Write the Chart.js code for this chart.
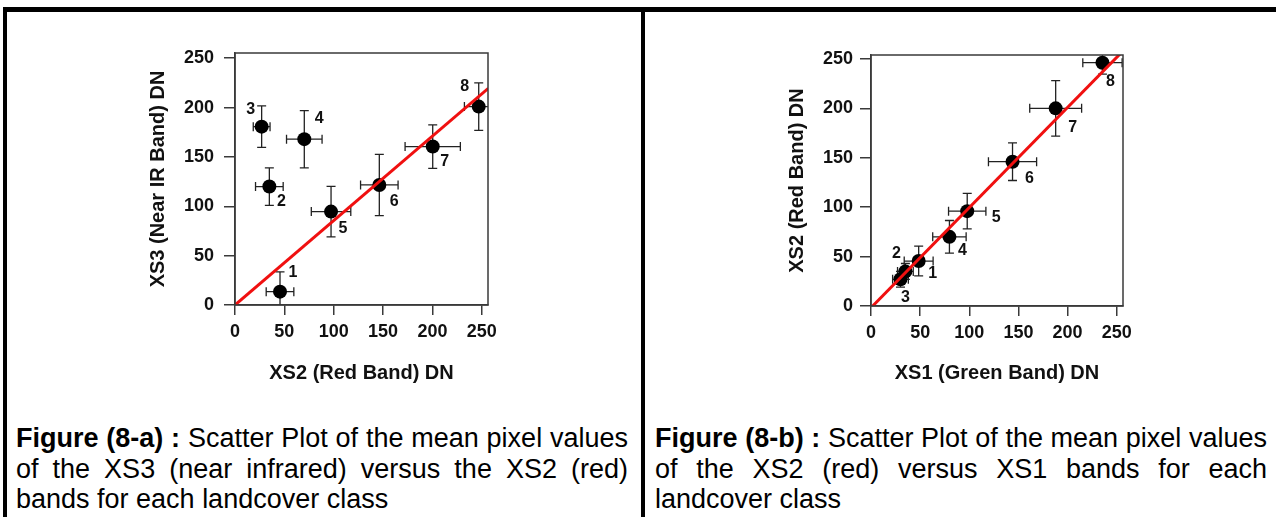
<!DOCTYPE html>
<html>
<head>
<meta charset="utf-8">
<script src="https://cdn.jsdelivr.net/npm/chart.js@4.4.0/dist/chart.umd.min.js"></script>
<style>
  html, body { margin: 0; padding: 0; background: #fff; }
  body { width: 1276px; height: 517px; overflow: hidden; position: relative; font-family: "Liberation Sans", Arial, sans-serif; }
  .bar { position: absolute; background: #000; }
  .plot { position: absolute; top: 14px; }
  .cap { position: absolute; top: 423px; width: 612px; font-size: 27px; line-height: 30.5px; text-align: justify; color: #000; }
  .cap b { font-weight: bold; }
</style>
</head>
<body>

<div class="bar" style="left:3px;top:7px;width:1273px;height:5px"></div>
<div class="bar" style="left:3px;top:7px;width:4px;height:510px"></div>
<div class="bar" style="left:641px;top:7px;width:4px;height:510px"></div>

<canvas id="chartA" class="plot" style="left:140px" width="496" height="386"></canvas>
<canvas id="chartB" class="plot" style="left:776px" width="496" height="386"></canvas>

<div class="cap" style="left:16px"><b>Figure (8-a) :</b> Scatter Plot of the mean pixel values of the XS3 (near infrared) versus the XS2 (red) bands for each landcover class</div>
<div class="cap" style="left:655px"><b>Figure (8-b) :</b> Scatter Plot of the mean pixel values of the XS2 (red) versus XS1 bands for each landcover class</div>

<script>
(function() {

  // landcover class numbers
  var classIds = ['1', '2', '3', '4', '5', '6', '7', '8'];
  var tickVals = [0, 50, 100, 150, 200, 250];

  // figure 8-a : XS3 vs XS2
  var xs2RedA = [45.6, 34.8, 27, 70.2, 97.3, 146.2, 200.3, 246.9];
  var xs3NirA = [13.5, 120, 180.7, 168, 94.6, 121.6, 160.5, 201];
  var xs2ErrA = [14, 14, 8.5, 18, 20, 19, 28, 14.5];
  var xs3ErrA = [20, 19, 21, 29, 25.5, 31, 22, 24];
  var fitXA = [0, 256.6];
  var fitYA = [0, 219.5];

  // figure 8-b : XS2 vs XS1
  var xs1GreenB = [48.5, 35, 30, 79.8, 97.9, 144, 187.9, 235.5];
  var xs2RedB = [45.5, 35, 27, 70, 96, 146, 200, 246.2];
  var xs1ErrB = [14.7, 8, 8, 17, 19, 24.5, 26.4, 20];
  var xs2ErrB = [15, 8, 8, 16.5, 18, 19, 28, 11.5];
  var fitXB = [1.7, 255.3];
  var fitYB = [0, 257];

  // where the class number sits relative to its point (px)
  var labelOffA = [[13, -19], [12, 15], [-11, -17], [15, -21], [12, 17], [15, 17], [12, 15], [-14, -20]];
  var labelOffB = [[14, 13], [-9, -18], [5, 18], [13, 14], [29, 6], [17, 17], [17, 19], [8, 19]];

  var axisColor = '#3a3a3a';
  var textColor = '#111';
  var fontFamily = '"Liberation Sans", Arial, sans-serif';

  var boxPlugin = {
    id: 'box',
    afterDraw: function(chart) {
      var a = chart.chartArea, ctx = chart.ctx;
      ctx.save();
      ctx.strokeStyle = axisColor;
      ctx.lineWidth = 1.5;
      ctx.strokeRect(a.left, a.top, a.right - a.left, a.bottom - a.top);
      ctx.restore();
    }
  };

  var errorBars = {
    id: 'errorBars',
    beforeDatasetsDraw: function(chart) {
      var ctx = chart.ctx, xs = chart.scales.x, ys = chart.scales.y, a = chart.chartArea;
      var pts = chart.data.datasets[1].data;
      ctx.save();
      ctx.beginPath();
      ctx.rect(a.left, a.top, a.right - a.left, a.bottom - a.top);
      ctx.clip();
      ctx.strokeStyle = '#222';
      ctx.lineWidth = 1.3;
      var cap = 4.5;
      pts.forEach(function(p) {
        var cx = xs.getPixelForValue(p.x), cy = ys.getPixelForValue(p.y);
        var x0 = xs.getPixelForValue(p.x - p.ex), x1 = xs.getPixelForValue(p.x + p.ex);
        var y0 = ys.getPixelForValue(p.y - p.ey), y1 = ys.getPixelForValue(p.y + p.ey);
        ctx.beginPath();
        ctx.moveTo(x0, cy); ctx.lineTo(x1, cy);
        ctx.moveTo(cx, y0); ctx.lineTo(cx, y1);
        ctx.moveTo(x0, cy - cap); ctx.lineTo(x0, cy + cap);
        ctx.moveTo(x1, cy - cap); ctx.lineTo(x1, cy + cap);
        ctx.moveTo(cx - cap, y0); ctx.lineTo(cx + cap, y0);
        ctx.moveTo(cx - cap, y1); ctx.lineTo(cx + cap, y1);
        ctx.stroke();
      });
      ctx.restore();
    }
  };

  var classLabels = {
    id: 'classLabels',
    afterDatasetsDraw: function(chart, args, opts) {
      var ctx = chart.ctx, xs = chart.scales.x, ys = chart.scales.y;
      var pts = chart.data.datasets[1].data;
      ctx.save();
      ctx.fillStyle = textColor;
      ctx.font = 'bold 16px ' + fontFamily;
      ctx.textAlign = 'center';
      ctx.textBaseline = 'middle';
      pts.forEach(function(p, i) {
        var off = opts.offsets[i];
        ctx.fillText(classIds[i], xs.getPixelForValue(p.x) + off[0], ys.getPixelForValue(p.y) + off[1]);
      });
      ctx.restore();
    }
  };

  function buildPoints(xv, yv, ex, ey) {
    return xv.map(function(x, i) {
      return { x: x, y: yv[i], ex: ex[i], ey: ey[i] };
    });
  }

  function axis(max, title, size, titlePad, tickPad, tickLen) {
    return {
      type: 'linear',
      min: 0,
      max: max,
      afterBuildTicks: function(s) {
        s.ticks = tickVals.map(function(v) { return { value: v }; });
      },
      afterFit: function(s) {
        if (s.isHorizontal()) s.height = size; else s.width = size;
      },
      grid: { display: true, drawOnChartArea: false, drawTicks: true, tickLength: tickLen, color: axisColor, lineWidth: 1.5 },
      border: { display: true, color: axisColor, width: 1.5 },
      ticks: { color: textColor, font: { size: 18, weight: 'bold', family: fontFamily }, padding: tickPad, maxRotation: 0, autoSkip: false },
      title: { display: true, text: title, color: textColor, font: { size: 20, weight: 'bold', family: fontFamily }, padding: titlePad }
    };
  }

  function makeChart(id, pts, fitX, fitY, offsets, xTitle, yTitle, g) {
    var ctx = document.getElementById(id);
    return new Chart(ctx, {
      type: 'scatter',
      data: {
        datasets: [{
          type: 'line',
          data: [{ x: fitX[0], y: fitY[0] }, { x: fitX[1], y: fitY[1] }],
          borderColor: '#f01010',
          borderWidth: 3,
          pointRadius: 0,
          showLine: true,
          clip: 0,
          order: 0
        }, {
          data: pts,
          backgroundColor: '#000',
          borderWidth: 0,
          pointRadius: 7,
          pointHoverRadius: 7,
          order: 1
        }]
      },
      options: {
        responsive: false,
        animation: false,
        events: [],
        layout: { padding: { left: 0, top: g.padTop, right: g.padRight, bottom: 0 } },
        plugins: {
          legend: { display: false },
          tooltip: { enabled: false },
          classLabels: { offsets: offsets }
        },
        scales: {
          x: axis(g.xmax, xTitle, g.xHeight, { top: 0, bottom: 15 }, 6, 10),
          y: axis(g.ymax, yTitle, g.yWidth, { top: g.yTitlePad, bottom: 0 }, g.yTickPad, 11)
        }
      },
      plugins: [errorBars, classLabels, boxPlugin]
    });
  }

  makeChart('chartA', buildPoints(xs2RedA, xs3NirA, xs2ErrA, xs3ErrA), fitXA, fitYA, labelOffA,
    'XS2 (Red Band) DN', 'XS3 (Near IR Band) DN',
    { padTop: 39, padRight: 148, yWidth: 95, xHeight: 95, xmax: 256.3, ymax: 255.3, yTickPad: 10, yTitlePad: 6 });

  makeChart('chartB', buildPoints(xs1GreenB, xs2RedB, xs1ErrB, xs2ErrB), fitXB, fitYB, labelOffB,
    'XS1 (Green Band) DN', 'XS2 (Red Band) DN',
    { padTop: 41, padRight: 149, yWidth: 95, xHeight: 94, xmax: 256.4, ymax: 254, yTickPad: 7, yTitlePad: 9 });

})();
</script>
</body>
</html>
